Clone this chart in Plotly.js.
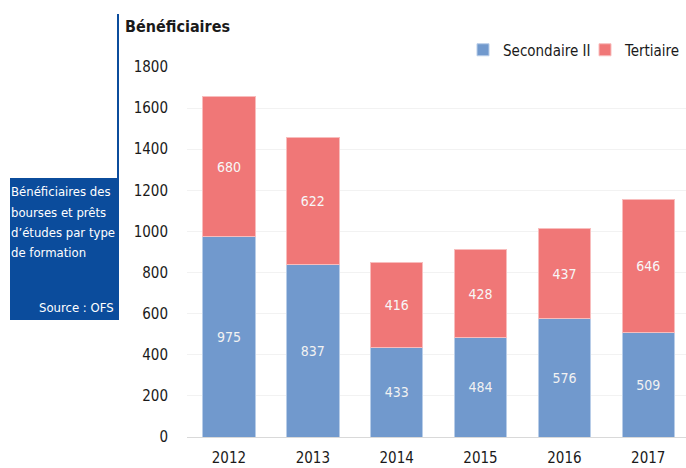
<!DOCTYPE html>
<html>
<head>
<meta charset="utf-8">
<script src="https://cdn.plot.ly/plotly-3.0.1.min.js"></script>
<style>html,body{margin:0;padding:0;background:#fff;}#chart{width:686px;height:468px;}</style>
</head>
<body>
<div id="chart"></div>
<script>
var years = ['2012', '2013', '2014', '2015', '2016', '2017'];
var secondaire = [975, 837, 433, 484, 576, 509];
var tertiaire = [680, 622, 416, 428, 437, 646];
var yTicks = [0, 200, 400, 600, 800, 1000, 1200, 1400, 1600, 1800];
var boxLines = ['Bénéficiaires des', 'bourses et prêts', 'd’études par type', 'de formation'];

var FONT = '"DejaVu Sans Condensed", "Open Sans", sans-serif';
var L = 187, T = 67, B = 31, W = 686, H = 468;
var pw = W - L, ph = H - T - B;
function px(x) { return (x - L) / pw; }
function py(y) { return (H - B - y) / ph; }

var traces = [
  {type: 'bar', name: 'Secondaire II', x: years, y: secondaire, legend: 'legend',
   marker: {color: '#7199CD', line: {color: '#B8CDE8', width: 1}},
   text: secondaire.map(String), textposition: 'inside', insidetextanchor: 'middle',
   textfont: {color: '#F2F2F2', size: 14, family: FONT}, hoverinfo: 'none'},
  {type: 'bar', name: 'Tertiaire', x: years, y: tertiaire, legend: 'legend2',
   marker: {color: '#F07777', line: {color: '#F8BDBD', width: 1}},
   text: tertiaire.map(String), textposition: 'inside', insidetextanchor: 'middle',
   textfont: {color: '#F7F7F7', size: 14, family: FONT}, hoverinfo: 'none'}
];

var legFont = {size: 15, family: FONT, color: '#1a1a1a'};
var annotations = [
  {xref: 'paper', yref: 'paper', x: px(123), y: py(26), xanchor: 'left', yanchor: 'middle',
   text: '<b>Bénéficiaires</b>', showarrow: false, font: {size: 16, family: FONT, color: '#1a1a1a'}},
  {xref: 'paper', yref: 'paper', x: px(116), y: py(307), xanchor: 'right', yanchor: 'middle',
   text: 'Source : OFS', showarrow: false, font: {size: 13, family: FONT, color: '#FFFFFF'}}
];
var lineY = [191, 212, 232, 252];
boxLines.forEach(function (t, i) {
  annotations.push({xref: 'paper', yref: 'paper', x: px(9), y: py(lineY[i]), xanchor: 'left', yanchor: 'middle',
    text: t, showarrow: false, font: {size: 13, family: FONT, color: '#FFFFFF'}});
});

var layout = {
  width: W, height: H,
  margin: {l: L, r: 0, t: T, b: B},
  barmode: 'stack', bargap: 0.375,
  paper_bgcolor: '#fff', plot_bgcolor: '#fff',
  font: {family: FONT, size: 15, color: '#1a1a1a'},
  showlegend: true,
  legend: {orientation: 'h', x: px(596), xanchor: 'right', y: py(50), yanchor: 'middle',
           font: legFont, itemwidth: 30, bgcolor: 'rgba(0,0,0,0)'},
  legend2: {orientation: 'h', x: 1, xanchor: 'right', y: py(50), yanchor: 'middle',
           font: legFont, itemwidth: 30, bgcolor: 'rgba(0,0,0,0)'},
  xaxis: {type: 'category', range: [-0.5, 5.45], showgrid: false, showline: false,
          ticks: '', ticklabelstandoff: 10, tickfont: {size: 15, family: FONT, color: '#1a1a1a'}},
  yaxis: {range: [0, 1800], tickvals: yTicks, ticktext: yTicks.map(String),
          showgrid: true, gridcolor: '#F2F2F2', gridwidth: 1,
          zeroline: true, zerolinecolor: '#D9D9D9', zerolinewidth: 1,
          showline: false, ticks: '', ticklabelstandoff: 18,
          tickfont: {size: 15, family: FONT, color: '#1a1a1a'}},
  shapes: [
    {type: 'rect', xref: 'paper', yref: 'paper', x0: px(10), x1: px(118), y0: py(320), y1: py(178),
     fillcolor: '#0B4C9C', line: {width: 0}, layer: 'above'},
    {type: 'line', xref: 'paper', yref: 'paper', x0: px(118), x1: px(118), y0: py(320), y1: py(14),
     line: {color: '#0B4C9C', width: 2}}
  ],
  annotations: annotations
};

Plotly.newPlot('chart', traces, layout, {displayModeBar: false, staticPlot: true});
</script>
</body>
</html>
